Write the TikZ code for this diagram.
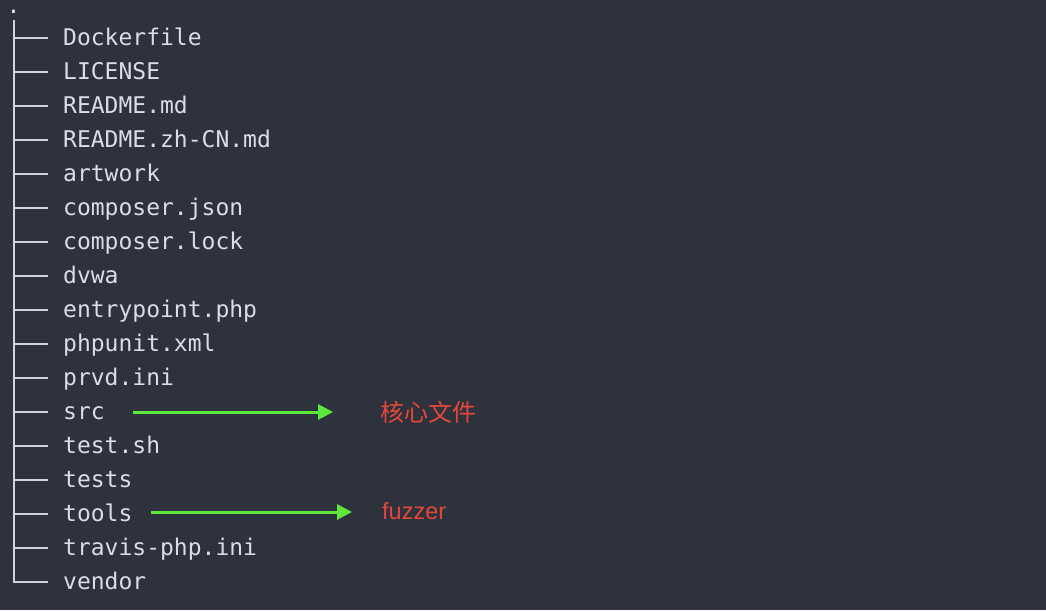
\documentclass[tikz,border=0pt]{standalone}
\usepackage{fontspec}
\usetikzlibrary{arrows.meta}
\newfontfamily\monof{DejaVu Sans Mono}
\newfontfamily\cjkf{Noto Sans CJK SC}
\newfontfamily\sansf{Liberation Sans}
\definecolor{bgc}{HTML}{2E323C}
\definecolor{txtc}{HTML}{D9DDE6}
\definecolor{linec}{HTML}{D0D4DE}
\definecolor{greenc}{HTML}{5EE83C}
\definecolor{redc}{HTML}{E3473B}
\tikzset{
  entry/.style={anchor=base west, inner sep=0pt, text=txtc, font=\monof\fontsize{23}{23}\selectfont},
  treeline/.style={draw=linec, line width=1.8pt},
  greenarrow/.style={draw=greenc, line width=3pt, -{Triangle[length=15pt,width=15pt]}},
  cjklabel/.style={anchor=west, inner sep=0pt, text=redc, font=\cjkf\fontsize{24}{24}\selectfont},
  enlabel/.style={anchor=base west, inner sep=0pt, text=redc, font=\sansf\fontsize{23.5}{23.5}\selectfont},
}
\begin{document}
\begin{tikzpicture}[x=1pt,y=-1pt]
\fill[bgc] (0,0) rectangle (1046,610);
\useasboundingbox (0,0) rectangle (1046,610);
\node[entry] (root) at (6.5,13.5) {.};
\coordinate (top) at (14,20);
\foreach \name [count=\i from 0] in {Dockerfile,LICENSE,README.md,README.zh-CN.md,artwork,composer.json,composer.lock,dvwa,entrypoint.php,phpunit.xml,prvd.ini,src,test.sh,tests,tools,travis-php.ini,vendor}{
  \coordinate (b\i) at (14,{37.7+34*\i});
  \coordinate (e\i) at (48,{37.7+34*\i});
  \node[entry] (n\i) at (63,{45.2+34*\i}) {\name};
  \draw[treeline] (b\i) -- (e\i);
}
\draw[treeline] (top) -- ([yshift=-0.9pt]b16);
\coordinate (a1s) at (133,412);
\coordinate (a1e) at (333,412);
\coordinate (a2s) at (151,512);
\coordinate (a2e) at (352,512);
\draw[greenarrow] (a1s) -- (a1e);
\draw[greenarrow] (a2s) -- (a2e);
\node[cjklabel] (core) at (380,412.5) {核心文件};
\node[enlabel] (fuzz) at (382,519) {fuzzer};
\end{tikzpicture}
\end{document}
